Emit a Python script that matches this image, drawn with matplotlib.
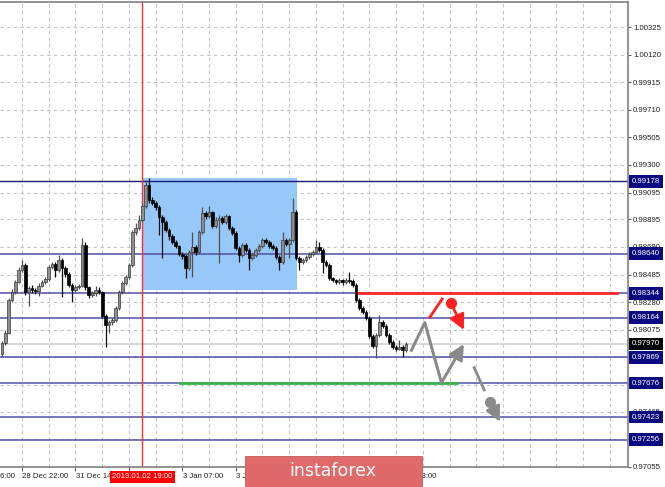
import matplotlib
matplotlib.use("Agg")
import matplotlib.pyplot as plt
import matplotlib.transforms as mtransforms
from matplotlib.patches import Rectangle
import numpy as np

plt.rcParams['font.family'] = ['Liberation Sans', 'DejaVu Sans']

# H1 bars (bar 0 = first candle on the left)
first_open = 0.97894
closes = [0.97976, 0.98050, 0.98296, 0.98355, 0.98429, 0.98519, 0.98556, 0.98355, 0.98385, 0.98370,
          0.98362, 0.98400, 0.98429, 0.98452, 0.98541, 0.98563, 0.98519, 0.98593, 0.98534, 0.98489,
          0.98407, 0.98370, 0.98392, 0.98400, 0.98705, 0.98392, 0.98333, 0.98348, 0.98370, 0.98355,
          0.98176, 0.98109, 0.98132, 0.98147, 0.98236, 0.98355, 0.98422, 0.98467, 0.98556, 0.98801,
          0.98831, 0.98891, 0.98995, 0.99151, 0.99040, 0.99017, 0.98987, 0.98913, 0.98876, 0.98816,
          0.98772, 0.98727, 0.98697, 0.98638, 0.98623, 0.98534, 0.98653, 0.98690, 0.98653, 0.98801,
          0.98943, 0.98920, 0.98950, 0.98846, 0.98891, 0.98906, 0.98876, 0.98920, 0.98831, 0.98794,
          0.98682, 0.98630, 0.98705, 0.98668, 0.98608, 0.98630, 0.98668, 0.98697, 0.98742, 0.98727,
          0.98697, 0.98682, 0.98615, 0.98578, 0.98742, 0.98712, 0.98742, 0.98950, 0.98608, 0.98578,
          0.98593, 0.98615, 0.98638, 0.98653, 0.98690, 0.98668, 0.98578, 0.98556, 0.98459, 0.98444,
          0.98429, 0.98444, 0.98429, 0.98444, 0.98437, 0.98407, 0.98296, 0.98236, 0.98206, 0.98162,
          0.98028, 0.97953, 0.98035, 0.98132, 0.98102, 0.98035, 0.97983, 0.97946, 0.97931, 0.97946,
          0.97924, 0.97970]
highs = [0.97990, 0.98070, 0.98310, 0.98380, 0.98445, 0.98540, 0.98593, 0.98570, 0.98400, 0.98410,
         0.98385, 0.98420, 0.98445, 0.98470, 0.98555, 0.98580, 0.98575, 0.98630, 0.98610, 0.98545,
         0.98500, 0.98420, 0.98410, 0.98415, 0.98757, 0.98727, 0.98400, 0.98365, 0.98400, 0.98392,
         0.98365, 0.98190, 0.98150, 0.98165, 0.98250, 0.98370, 0.98440, 0.98485, 0.98570, 0.98815,
         0.98870, 0.98925, 0.99017, 0.99188, 0.99203, 0.99065, 0.99030, 0.99000, 0.98930, 0.98890,
         0.98830, 0.98785, 0.98740, 0.98705, 0.98650, 0.98635, 0.98670, 0.98801, 0.98705, 0.98815,
         0.98987, 0.98960, 0.98995, 0.98960, 0.98910, 0.98930, 0.98920, 0.98935, 0.98930, 0.98845,
         0.98805, 0.98695, 0.98720, 0.98720, 0.98680, 0.98645, 0.98680, 0.98710, 0.98760, 0.98757,
         0.98740, 0.98710, 0.98695, 0.98630, 0.98801, 0.98757, 0.98760, 0.99055, 0.98965, 0.98620,
         0.98610, 0.98630, 0.98650, 0.98665, 0.98742, 0.98727, 0.98680, 0.98590, 0.98570, 0.98470,
         0.98455, 0.98460, 0.98455, 0.98460, 0.98503, 0.98450, 0.98420, 0.98310, 0.98250, 0.98220,
         0.98175, 0.98040, 0.98050, 0.98184, 0.98145, 0.98115, 0.98050, 0.97995, 0.97960, 0.97998,
         0.97960, 0.97985]
lows = [0.97878, 0.97960, 0.98040, 0.98280, 0.98340, 0.98420, 0.98500, 0.98330, 0.98250, 0.98350,
        0.98340, 0.98325, 0.98390, 0.98415, 0.98440, 0.98525, 0.98466, 0.98505, 0.98318, 0.98470,
        0.98390, 0.98281, 0.98355, 0.98380, 0.98390, 0.98370, 0.98310, 0.98315, 0.98325, 0.98340,
        0.98160, 0.97946, 0.98050, 0.98110, 0.98130, 0.98220, 0.98340, 0.98410, 0.98455, 0.98540,
        0.98780, 0.98815, 0.98876, 0.98980, 0.99020, 0.99000, 0.98965, 0.98779, 0.98608, 0.98800,
        0.98742, 0.98710, 0.98680, 0.98620, 0.98600, 0.98459, 0.98520, 0.98466, 0.98630, 0.98640,
        0.98790, 0.98900, 0.98905, 0.98830, 0.98830, 0.98571, 0.98860, 0.98860, 0.98815, 0.98780,
        0.98665, 0.98578, 0.98615, 0.98650, 0.98518, 0.98595, 0.98615, 0.98655, 0.98685, 0.98710,
        0.98680, 0.98665, 0.98600, 0.98518, 0.98565, 0.98695, 0.98608, 0.98730, 0.98590, 0.98518,
        0.98560, 0.98578, 0.98600, 0.98625, 0.98640, 0.98650, 0.98496, 0.98540, 0.98445, 0.98430,
        0.98415, 0.98415, 0.98410, 0.98415, 0.98420, 0.98390, 0.98280, 0.98220, 0.98190, 0.98145,
        0.98010, 0.97935, 0.97864, 0.98020, 0.98085, 0.98020, 0.97970, 0.97930, 0.97915, 0.97920,
        0.97869, 0.97910]

price_ticks = [1.00325, 1.00120, 0.99915, 0.99710, 0.99505, 0.99300, 0.99095, 0.98895, 0.98690,
               0.98485, 0.98280, 0.98075, 0.97870, 0.97665, 0.97465, 0.97260, 0.97055]
# time axis: every 16 bars; the ones hidden under the red label / watermark get no text
time_bars = [-10, 6, 22, 38, 54, 70, 86, 102, 118]
time_labels = ["28 Dec 06:00", "28 Dec 22:00", "31 Dec 14:00", "", "3 Jan 07:00",
               "3 Jan 23:00", "", "", "7 Jan 23:00"]

levels = [0.98640, 0.98344, 0.98164, 0.97869, 0.97676, 0.97423, 0.97256]
top_level = 0.99178
bid = 0.97970
resist_line = 0.98344
support_line = 0.97676

# range box and marked bar
box_bars = (42.2, 88.3)
box_prices = (0.98370, 0.99203)
marked_bar = 42
marked_label = "2019.01.02 19:00"

# forecast sketch
path_x = [122.4, 126.6, 131.6]
path_y = [0.97911, 0.98127, 0.97680]
path_tip = (138.3, 0.97968)
red_seg_x = [128.1, 131.8]
red_seg_y = [0.98167, 0.98303]
red_dot = (134.4, 0.98275)
red_tip = (138.3, 0.98072)
grey_seg_x = [141.4, 144.4]
grey_seg_y = [0.97792, 0.97626]
grey_dot = (146.1, 0.97539)
grey_tip = (149.1, 0.97390)

W, H = 665, 487
fig = plt.figure(figsize=(W / 100, H / 100), dpi=100)
ax = fig.add_axes([0, 20 / H, 627.5 / W, (485.5 - 20) / H])
ax.set_xlim(-0.6, 187.3)
ax.set_ylim(0.97053, 1.00516)

# grid
for gx in np.arange(6, 187, 8):
    ax.axvline(gx, color='#c4c4c4', lw=0.8, ls=(0, (3, 3)), zorder=0)
for gy in price_ticks:
    ax.axhline(gy, color='#c4c4c4', lw=0.8, ls=(0, (3, 3)), zorder=0)

ax.add_patch(Rectangle((box_bars[0], box_prices[0]), box_bars[1] - box_bars[0],
                       box_prices[1] - box_prices[0], fc='#96c8fa', ec='none', zorder=1))

ax.axhline(bid, color='#d8d8d8', lw=1.5, zorder=1.5)
ax.axhline(top_level, color='#1c1c78', lw=1.0, zorder=2)
for lv in levels:
    ax.axhline(lv, color='#5050a8', lw=1.3, alpha=0.85, zorder=2)

ax.plot([106.6, 184.1], [resist_line, resist_line], color='#ff2a2a', lw=2, zorder=2.2)
ax.plot([53.3, 136.2], [support_line, support_line], color='#3cb44a', lw=2, zorder=2.2)
ax.axvline(marked_bar, color='#ff3030', lw=1.0, zorder=2.1)

# candles
opens = [first_open] + closes[:-1]
x = np.arange(len(closes))
for i in x:
    o, c = opens[i], closes[i]
    up = c >= o
    wick = '#505050' if up else '#111111'
    ax.vlines(i, lows[i], highs[i], color=wick, lw=0.9, zorder=3)
    h = max(abs(c - o), 0.00003)
    ax.bar(i, h, bottom=min(o, c), width=0.8,
           color='#8e8e8e' if up else '#000000',
           edgecolor='#3a3a3a' if up else '#000000', linewidth=0.5, zorder=3.1)

# forecast arrows
ax.plot(path_x, path_y, color='#8a8a8a', lw=2.2, zorder=4, solid_capstyle='butt')
ax.annotate('', xy=path_tip, xytext=(path_x[-1], path_y[-1]),
            arrowprops=dict(arrowstyle='-|>,head_length=0.9,head_width=0.45', color='#8a8a8a',
                            lw=2.2, shrinkA=0, shrinkB=0), zorder=4)
ax.plot(red_seg_x, red_seg_y, color='#ff2020', lw=2, zorder=4)
ax.plot(*red_dot, 'o', color='#ff2020', ms=7, zorder=4)
ax.annotate('', xy=red_tip, xytext=red_dot,
            arrowprops=dict(arrowstyle='-|>,head_length=0.9,head_width=0.45', color='#ff2020',
                            lw=2, shrinkA=0, shrinkB=0), zorder=4)
ax.plot(grey_seg_x, grey_seg_y, color='#8a8a8a', lw=2, zorder=4)
ax.plot(*grey_dot, 'o', color='#8a8a8a', ms=7, zorder=4)
ax.annotate('', xy=grey_tip, xytext=grey_dot,
            arrowprops=dict(arrowstyle='-|>,head_length=0.9,head_width=0.45', color='#8a8a8a',
                            lw=2, shrinkA=0, shrinkB=0), zorder=4)

# axes look
for s in ['top', 'right', 'bottom']:
    ax.spines[s].set_color('#808080')
    ax.spines[s].set_linewidth(1.2)
ax.spines['left'].set_visible(False)

ax.yaxis.tick_right()
ax.set_yticks(price_ticks)
ax.set_yticklabels([f"{v:.5f}" for v in price_ticks])
ax.tick_params(axis='y', length=2.5, width=0.8, color='#606060', pad=1.5,
               labelsize=5.6, labelcolor='#202020')
ax.set_xticks([b for b in time_bars if b >= 0])
ax.set_xticklabels([])
ax.tick_params(axis='x', length=3, width=0.8, color='#606060')

tx = mtransforms.blended_transform_factory(ax.transData, fig.transFigure)
for b, lab in zip(time_bars, time_labels):
    if lab:
        ax.text(b + 0.1, 1 - 477 / H, lab, transform=tx, ha='left', va='center',
                fontsize=5.6, color='#202020', clip_on=False)
ax.text(marked_bar, 1 - 477 / H, marked_label, transform=tx, ha='center', va='center',
        fontsize=5.6, color='white', clip_on=False, zorder=10,
        bbox=dict(boxstyle='square,pad=0.3', fc='#ff0000', ec='none'))

ty = mtransforms.blended_transform_factory(ax.transAxes, ax.transData)
lx = 1 + 4.5 / 627.5
for lv in [top_level] + levels:
    ax.text(lx, lv, f"{lv:.5f}", transform=ty, ha='left', va='center', fontsize=5.6,
            color='white', clip_on=False, zorder=10,
            bbox=dict(boxstyle='square,pad=0.35', fc='#0a0a80', ec='none'))
ax.text(lx, bid, f"{bid:.5f}", transform=ty, ha='left', va='center', fontsize=5.6,
        color='white', clip_on=False, zorder=10,
        bbox=dict(boxstyle='square,pad=0.35', fc='#000000', ec='none'))

# watermark
fig.patches.append(Rectangle((245 / W, 0), (422 - 245) / W, (487 - 456) / H,
                             transform=fig.transFigure, fc='#e06a6a', ec='#c85a5a', lw=0.6))
fig.text(333 / W, 1 - 471 / H, 'instaforex', ha='center', va='center', fontsize=12.5,
         color='white', family=['DejaVu Sans'])

fig.savefig('out.png', dpi=100)
